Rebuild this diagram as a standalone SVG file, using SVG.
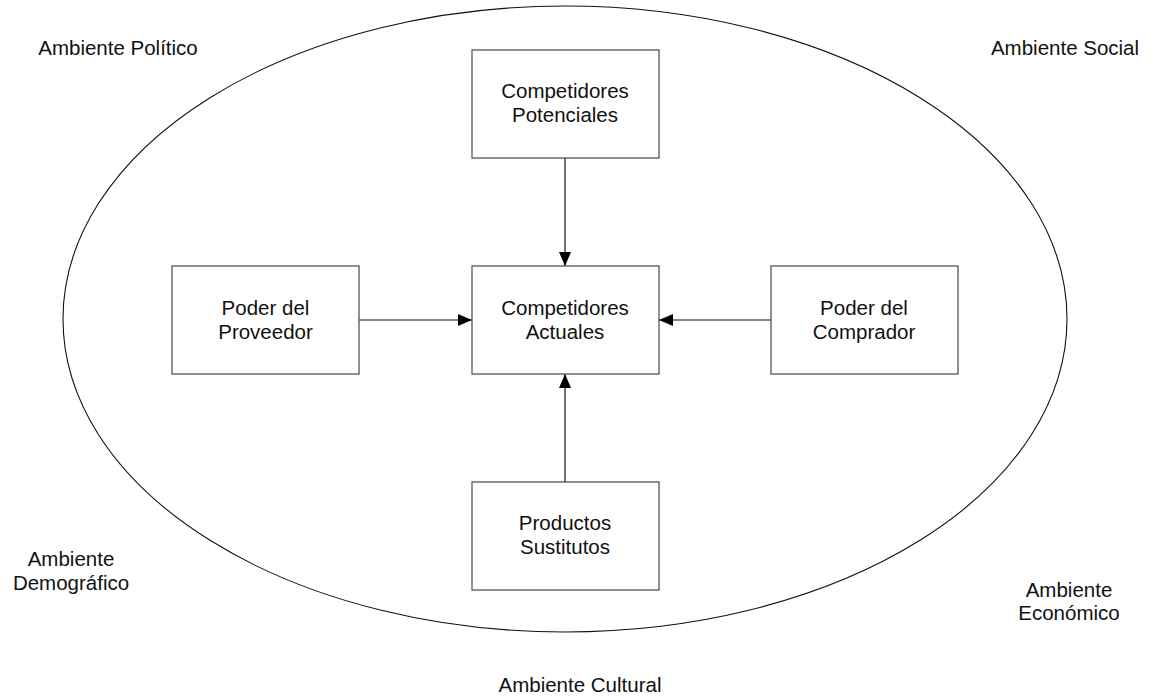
<svg xmlns="http://www.w3.org/2000/svg" width="1154" height="698" viewBox="0 0 1154 698">
  <style>
    text { font-family: "Liberation Sans", Arial, sans-serif; font-size: 20.5px; fill: #111; text-anchor: middle; }
    .box { fill: #fff; stroke: #555; stroke-width: 1.3; }
    .env { fill: none; stroke: #111; stroke-width: 1.1; }
    .link { stroke: #111; stroke-width: 1.2; fill: none; marker-end: url(#arrow); }
  </style>
  <defs>
    <marker id="arrow" viewBox="0 0 14 12" refX="14" refY="6" markerWidth="14" markerHeight="12" markerUnits="userSpaceOnUse" orient="auto">
      <path d="M0,0 L14,6 L0,12 Z" fill="#000"/>
    </marker>
  </defs>

  <rect width="1154" height="698" fill="#fff"/>

  <!-- surrounding environment -->
  <ellipse class="env" cx="565" cy="319" rx="502" ry="313"/>

  <g id="env-labels">
    <text x="118" y="55">Ambiente Político</text>
    <text x="1065" y="55">Ambiente Social</text>
    <text x="71" y="566">Ambiente</text>
    <text x="71" y="590">Demográfico</text>
    <text x="1069" y="597">Ambiente</text>
    <text x="1069" y="620">Económico</text>
    <text x="580" y="692">Ambiente Cultural</text>
  </g>

  <g id="connectors">
    <line class="link" x1="565" y1="158" x2="565" y2="266"/>
    <line class="link" x1="359" y1="320" x2="472" y2="320"/>
    <line class="link" x1="771" y1="320" x2="659" y2="320"/>
    <line class="link" x1="565" y1="482" x2="565" y2="374"/>
  </g>

  <g id="potenciales">
    <rect class="box" x="472" y="50" width="187" height="108"/>
    <text x="565" y="98">Competidores</text>
    <text x="565" y="122">Potenciales</text>
  </g>

  <g id="proveedor">
    <rect class="box" x="172" y="266" width="187" height="108"/>
    <text x="265.5" y="315">Poder del</text>
    <text x="265.5" y="339">Proveedor</text>
  </g>

  <g id="actuales">
    <rect class="box" x="472" y="266" width="187" height="108"/>
    <text x="565" y="315">Competidores</text>
    <text x="565" y="339">Actuales</text>
  </g>

  <g id="comprador">
    <rect class="box" x="771" y="266" width="187" height="108"/>
    <text x="864" y="315">Poder del</text>
    <text x="864" y="339">Comprador</text>
  </g>

  <g id="sustitutos">
    <rect class="box" x="472" y="482" width="187" height="108"/>
    <text x="565" y="530">Productos</text>
    <text x="565" y="554">Sustitutos</text>
  </g>
</svg>
